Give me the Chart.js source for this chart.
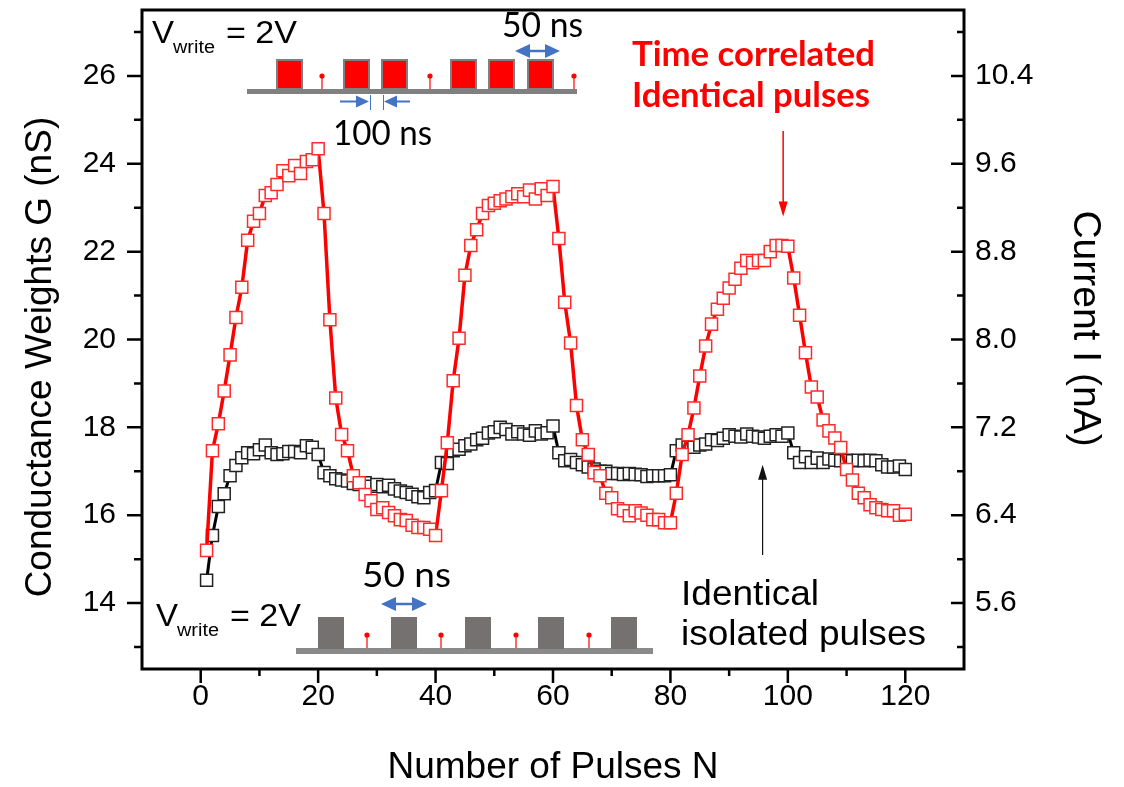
<!DOCTYPE html>
<html>
<head>
<meta charset="utf-8">
<title>Conductance weights vs pulses</title>
<script src="https://cdn.jsdelivr.net/npm/chart.js@4.4.0/dist/chart.umd.min.js"></script>
<style>
    html, body { margin: 0; padding: 0; background: #fff; }
    canvas { display: block; }
</style>
</head>
<body>
<canvas id="pulseChart" width="1124" height="787"></canvas>
<script>
// pulse index N
const pulseN = [
    1, 2, 3, 4, 5, 6, 7, 8, 9, 10, 11, 12, 13, 14, 15, 16, 17, 18, 19, 20,
    21, 22, 23, 24, 25, 26, 27, 28, 29, 30, 31, 32, 33, 34, 35, 36, 37, 38, 39, 40,
    41, 42, 43, 44, 45, 46, 47, 48, 49, 50, 51, 52, 53, 54, 55, 56, 57, 58, 59, 60,
    61, 62, 63, 64, 65, 66, 67, 68, 69, 70, 71, 72, 73, 74, 75, 76, 77, 78, 79, 80,
    81, 82, 83, 84, 85, 86, 87, 88, 89, 90, 91, 92, 93, 94, 95, 96, 97, 98, 99, 100,
    101, 102, 103, 104, 105, 106, 107, 108, 109, 110, 111, 112, 113, 114, 115, 116, 117, 118, 119, 120
];

// time correlated identical pulses (red), G in nS
const correlatedG = [
    15.2, 17.47, 18.08, 18.83, 19.65, 20.5, 21.19, 22.26, 22.69, 22.87, 23.28, 23.34, 23.53, 23.84, 23.73, 23.96, 23.78, 24.05, 24.09, 24.34,
    22.87, 20.45, 18.67, 17.84, 17.47, 16.9, 16.74, 16.47, 16.33, 16.13, 16.17, 16.06, 15.99, 15.9, 15.88, 15.77, 15.72, 15.72, 15.68, 15.54,
    16.56, 17.65, 19.06, 20.03, 21.46, 22.14, 22.5, 22.87, 23.05, 23.1, 23.16, 23.2, 23.25, 23.32, 23.25, 23.4, 23.2, 23.43, 23.28, 23.48,
    22.3, 20.85, 19.92, 18.5, 17.72, 17.38, 16.97, 16.9, 16.5, 16.4, 16.15, 16.1, 15.99, 16.1, 16.05, 16.0, 15.9, 15.9, 15.83, 15.83,
    16.5, 17.38, 17.83, 18.44, 19.17, 19.85, 20.35, 20.69, 20.94, 21.17, 21.37, 21.62, 21.8, 21.75, 21.8, 21.8, 22.0, 22.14, 22.14, 22.12,
    21.4, 20.55, 19.7, 18.92, 18.69, 18.17, 17.92, 17.76, 17.54, 17.04, 16.8, 16.5, 16.4, 16.24, 16.17, 16.13, 16.1, 16.1, 16.0, 16.02
];

// identical isolated pulses (black), G in nS
const isolatedG = [
    14.52, 15.54, 16.2, 16.49, 16.9, 17.13, 17.31, 17.42, 17.4, 17.49, 17.6, 17.42, 17.38, 17.4, 17.45, 17.45, 17.42, 17.58, 17.55, 17.38,
    16.97, 16.9, 16.83, 16.8, 16.78, 16.72, 16.7, 16.74, 16.66, 16.7, 16.65, 16.68, 16.6, 16.55, 16.52, 16.48, 16.42, 16.4, 16.52, 16.56,
    17.2, 17.18, 17.47, 17.5, 17.58, 17.62, 17.72, 17.75, 17.87, 17.9, 18.0, 17.95, 17.85, 17.9, 17.85, 17.82, 17.92, 17.85, 17.88, 18.03,
    17.42, 17.24, 17.27, 17.2, 17.15, 17.1, 17.05, 17.0, 17.0, 16.95, 16.95, 16.93, 16.95, 16.93, 16.92, 16.88, 16.9, 16.9, 16.9, 16.92,
    17.47, 17.6, 17.55, 17.55, 17.6, 17.62, 17.72, 17.7, 17.75, 17.83, 17.8, 17.78, 17.85, 17.8, 17.78, 17.75, 17.8, 17.83, 17.8, 17.87,
    17.42, 17.2, 17.33, 17.2, 17.3, 17.2, 17.28, 17.25, 17.24, 17.25, 17.24, 17.25, 17.24, 17.25, 17.24, 17.15, 17.1, 17.1, 17.12, 17.04
];

// axis ticks
const xMajorTicks = [0, 20, 40, 60, 80, 100, 120];
const xMinorTicks = [10, 30, 50, 70, 90, 110];
const gMajorTicks = [14, 16, 18, 20, 22, 24, 26];
const gMinorTicks = [13, 15, 17, 19, 21, 23, 25, 27];
const iMajorTicks = [5.6, 6.4, 7.2, 8.0, 8.8, 9.6, 10.4];
const iMinorTicks = [5.2, 6.0, 6.8, 7.6, 8.4, 9.2, 10.0, 10.8];

const FONT = "'Liberation Sans', Arial, sans-serif";
const tickFont = { family: FONT, size: 30 };
const titleFont = { family: FONT, size: 37, lineHeight: 1 };
const BLUE = '#4472c4';

function toPoints(ys) {
    return pulseN.map((n, i) => ({ x: n, y: ys[i] }));
}

// fixed axis box sizes, no extra label overhang padding
function fixBox(size) {
    return s => {
        if (s.isHorizontal()) s.height = size; else s.width = size;
        s.paddingTop = 0; s.paddingBottom = 0; s.paddingLeft = 0; s.paddingRight = 0;
    };
}

// stretch/squeeze a text so it takes exactly `w` pixels
function fitText(ctx, txt, x, y, w, font, color) {
    ctx.save();
    ctx.font = font;
    ctx.fillStyle = color;
    ctx.textBaseline = 'alphabetic';
    ctx.textAlign = 'left';
    const m = ctx.measureText(txt).width;
    ctx.translate(x, y);
    ctx.scale(w / m, 1);
    ctx.fillText(txt, 0, 0);
    ctx.restore();
}

function rotatedTitle(ctx, txt, cx, cy, angle, size) {
    ctx.save();
    ctx.translate(cx, cy);
    ctx.rotate(angle);
    ctx.font = size + 'px ' + FONT;
    ctx.fillStyle = '#000';
    ctx.textAlign = 'center';
    ctx.textBaseline = 'middle';
    ctx.fillText(txt, 0, 0);
    ctx.restore();
}

function arrowHead(ctx, tipX, tipY, dx, dy, len, half) {
    const bx = tipX - dx * len, by = tipY - dy * len;
    ctx.beginPath();
    ctx.moveTo(tipX, tipY);
    ctx.lineTo(bx - dy * half, by + dx * half);
    ctx.lineTo(bx + dy * half, by - dx * half);
    ctx.closePath();
    ctx.fill();
}

function doubleArrow(ctx, x1, x2, y) {
    ctx.save();
    ctx.strokeStyle = BLUE; ctx.fillStyle = BLUE; ctx.lineWidth = 2.5;
    ctx.beginPath(); ctx.moveTo(x1 + 10, y); ctx.lineTo(x2 - 10, y); ctx.stroke();
    arrowHead(ctx, x1, y, -1, 0, 15, 7);
    arrowHead(ctx, x2, y, 1, 0, 15, 7);
    ctx.restore();
}

function vWrite(ctx, x, base) {
    fitText(ctx, 'V', x, base, 22, "32px 'Liberation Sans'", '#000');
    fitText(ctx, 'write', x + 21, base + 10, 42, "18px 'Liberation Sans'", '#000');
    fitText(ctx, '= 2V', x + 74, base, 71, "32px 'Liberation Sans'", '#000');
}

function stem(ctx, x, top, bottom) {
    ctx.save();
    ctx.strokeStyle = '#ff0000'; ctx.fillStyle = '#ff0000'; ctx.lineWidth = 1.2;
    ctx.beginPath(); ctx.moveTo(x, top); ctx.lineTo(x, bottom); ctx.stroke();
    ctx.beginPath(); ctx.arc(x, top, 2.6, 0, Math.PI * 2); ctx.fill();
    ctx.restore();
}

const framePlugin = {
    id: 'frameAndTicks',
    afterDraw(chart) {
        const { ctx, chartArea: a, scales } = chart;
        ctx.save();
        ctx.strokeStyle = '#000';
        ctx.lineWidth = 2.5;
        ctx.beginPath();
        const tick = (scale, values, len, side) => {
            values.forEach(v => {
                const p = scale.getPixelForValue(v);
                if (side === 'bottom') { ctx.moveTo(p, a.bottom); ctx.lineTo(p, a.bottom + len); }
                if (side === 'left') { ctx.moveTo(a.left, p); ctx.lineTo(a.left - len, p); }
                if (side === 'right') { ctx.moveTo(a.right, p); ctx.lineTo(a.right - len, p); }
            });
        };
        tick(scales.x, xMajorTicks, 14, 'bottom');
        tick(scales.x, xMinorTicks, 7, 'bottom');
        tick(scales.y, gMajorTicks, 15, 'left');
        tick(scales.y, gMinorTicks, 8, 'left');
        tick(scales.y2, iMajorTicks, 13, 'right');
        tick(scales.y2, iMinorTicks, 7, 'right');
        ctx.stroke();
        ctx.lineWidth = 3;
        ctx.strokeRect(a.left, a.top, a.right - a.left, a.bottom - a.top);
        ctx.restore();

        // y axis titles (placed by hand, they sit off-centre in the original)
        rotatedTitle(ctx, 'Conductance Weights G (nS)', 41, scales.y.getPixelForValue(19.6), -Math.PI / 2, 37);
        rotatedTitle(ctx, 'Current I (nA)', 1085, scales.y2.getPixelForValue(8.1), Math.PI / 2, 39);
    }
};

const insetPlugin = {
    id: 'insets',
    afterDraw(chart) {
        const ctx = chart.ctx;
        const xs = chart.scales.x, ys = chart.scales.y;

        // ---- top: time correlated pulse train
        vWrite(ctx, 152, 43);
        ctx.save();
        ctx.fillStyle = '#808080';
        ctx.fillRect(247, 89, 330, 5);
        [277, 344, 382, 451, 489, 528].forEach(x0 => {
            ctx.fillStyle = '#ff0000';
            ctx.fillRect(x0, 60, 25, 29);
            ctx.strokeStyle = '#7f7f7f';
            ctx.lineWidth = 2;
            ctx.strokeRect(x0, 60, 25, 29);
        });
        ctx.restore();
        [322, 430, 574].forEach(x0 => stem(ctx, x0, 76, 89));
        doubleArrow(ctx, 515, 560, 51);
        fitText(ctx, '50 ns', 502, 37, 81, "34px Lato, 'Open Sans', sans-serif", '#000');

        // 100 ns gap marker
        ctx.save();
        ctx.strokeStyle = BLUE; ctx.fillStyle = BLUE;
        ctx.lineWidth = 2;
        ctx.beginPath(); ctx.moveTo(340, 101.5); ctx.lineTo(358, 101.5); ctx.stroke();
        arrowHead(ctx, 369, 101.5, 1, 0, 13, 6);
        ctx.beginPath(); ctx.moveTo(397, 101.5); ctx.lineTo(410, 101.5); ctx.stroke();
        arrowHead(ctx, 384, 101.5, -1, 0, 13, 6);
        ctx.lineWidth = 1;
        ctx.beginPath();
        ctx.moveTo(370.5, 95); ctx.lineTo(370.5, 110);
        ctx.moveTo(383.5, 95); ctx.lineTo(383.5, 110);
        ctx.stroke();
        ctx.restore();
        fitText(ctx, '100 ns', 333, 145, 99, "34px Lato, 'Open Sans', sans-serif", '#000');

        // red label + arrow pointing at the third peak
        fitText(ctx, 'Time correlated', 632, 66, 243, "bold 35px Lato, 'Open Sans', sans-serif", '#ff0000');
        fitText(ctx, 'Identical pulses', 632, 107, 238, "bold 35px Lato, 'Open Sans', sans-serif", '#ff0000');
        const ax = xs.getPixelForValue(99.2);
        ctx.save();
        ctx.strokeStyle = '#ff0000'; ctx.fillStyle = '#ff0000'; ctx.lineWidth = 1.5;
        ctx.beginPath(); ctx.moveTo(ax, 131); ctx.lineTo(ax, ys.getPixelForValue(22.95)); ctx.stroke();
        arrowHead(ctx, ax, ys.getPixelForValue(22.8), 0, 1, 15, 4.5);
        ctx.restore();

        // ---- bottom: isolated pulse train
        vWrite(ctx, 156, 626);
        ctx.save();
        ctx.fillStyle = '#8a8a8a';
        ctx.fillRect(296, 648, 357, 6);
        ctx.fillStyle = '#767171';
        [318, 391, 465, 538, 611].forEach(x0 => ctx.fillRect(x0, 617, 26, 32));
        ctx.restore();
        [367, 441, 516, 589].forEach(x0 => stem(ctx, x0, 635, 648));
        doubleArrow(ctx, 381, 427, 604);
        fitText(ctx, '50 ns', 362, 587, 89, "34px Lato, 'Open Sans', sans-serif", '#000');

        fitText(ctx, 'Identical', 681, 605, 138, "35px 'Liberation Sans'", '#000');
        fitText(ctx, 'isolated pulses', 681, 645, 245, "35px 'Liberation Sans'", '#000');
        const bx = xs.getPixelForValue(95.7);
        ctx.save();
        ctx.strokeStyle = '#111'; ctx.fillStyle = '#111'; ctx.lineWidth = 1.2;
        ctx.beginPath(); ctx.moveTo(bx, 555); ctx.lineTo(bx, ys.getPixelForValue(17.0)); ctx.stroke();
        arrowHead(ctx, bx, ys.getPixelForValue(17.15), 0, -1, 15, 4.5);
        ctx.restore();
    }
};

const ctx = document.getElementById('pulseChart').getContext('2d');
const pulseChart = new Chart(ctx, {
    type: 'line',
    data: {
        datasets: [
            {
                label: 'Time correlated identical pulses',
                data: toPoints(correlatedG),
                yAxisID: 'y',
                borderColor: '#ff0000',
                borderWidth: 3.5,
                pointStyle: 'rect',
                pointRadius: 8.5,
                pointBorderWidth: 1.5,
                pointBorderColor: '#ff2a2a',
                pointBackgroundColor: '#ffffff',
                tension: 0
            },
            {
                label: 'Identical isolated pulses',
                data: toPoints(isolatedG),
                yAxisID: 'y',
                borderColor: '#000000',
                borderWidth: 3,
                pointStyle: 'rect',
                pointRadius: 8.5,
                pointBorderWidth: 1.5,
                pointBorderColor: '#222222',
                pointBackgroundColor: '#ffffff',
                tension: 0
            }
        ]
    },
    options: {
        responsive: false,
        animation: false,
        layout: { padding: { top: 6, left: 0, right: 0, bottom: 0 } },
        plugins: {
            legend: { display: false },
            tooltip: { enabled: false }
        },
        scales: {
            x: {
                type: 'linear',
                min: -10,
                max: 130,
                afterBuildTicks: s => { s.ticks = xMajorTicks.map(v => ({ value: v })); },
                afterFit: fixBox(118),
                grid: { display: false, drawTicks: false },
                border: { display: false },
                ticks: { font: tickFont, color: '#000', padding: 10, maxRotation: 0, autoSkip: false },
                title: { display: true, text: 'Number of Pulses N', font: titleFont, color: '#000', padding: { top: 0, bottom: 1 } }
            },
            y: {
                position: 'left',
                min: 12.5,
                max: 27.5,
                afterBuildTicks: s => { s.ticks = gMajorTicks.map(v => ({ value: v })); },
                afterFit: fixBox(142),
                grid: { display: false, drawTicks: false },
                border: { display: false },
                ticks: { font: tickFont, color: '#000', padding: 26, autoSkip: false }
            },
            y2: {
                position: 'right',
                min: 5.0,
                max: 11.0,
                afterBuildTicks: s => { s.ticks = iMajorTicks.map(v => ({ value: v })); },
                afterFit: fixBox(160),
                grid: { display: false, drawTicks: false },
                border: { display: false },
                ticks: { font: tickFont, color: '#000', padding: 11, autoSkip: false, callback: v => v.toFixed(1) }
            }
        }
    },
    plugins: [framePlugin, insetPlugin]
});
</script>
</body>
</html>
